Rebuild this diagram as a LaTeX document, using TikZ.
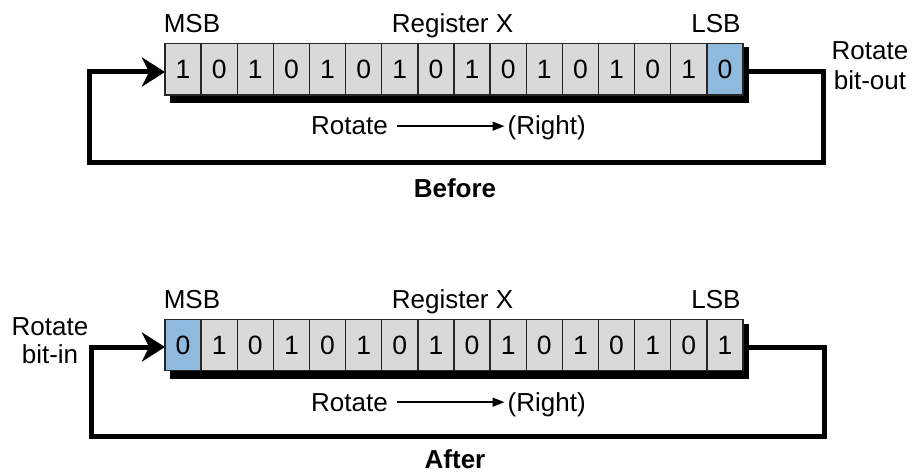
\documentclass[tikz,border=0pt]{standalone}
\usepackage{fontspec}
\setmainfont{Liberation Sans}
\usetikzlibrary{arrows.meta}
\definecolor{cellgray}{RGB}{217,217,217}
\definecolor{cellblue}{RGB}{143,186,222}
\begin{document}
\begin{tikzpicture}[x=1pt,y=-1pt,
  txt/.style={font=\fontsize{26}{30}\selectfont},
  cell/.style={font=\fontsize{26.5}{30}\selectfont,draw=black!85,line width=1.3pt,fill=cellgray,minimum width=36.125pt,minimum height=51.5pt,inner sep=0pt},
  hotcell/.style={cell,fill=cellblue},
  lbl/.style={txt,inner sep=0pt,anchor=base},
  lblw/.style={txt,inner sep=0pt,anchor=base west},
  ttl/.style={lbl,font=\fontsize{26}{30}\selectfont\bfseries},
  shadowbox/.style={fill=black},
  loopline/.style={line width=5pt,line join=miter,-{Stealth[length=23pt,width=29pt,inset=7pt]}},
  dirarrow/.style={line width=1.5pt,-{Triangle[length=12pt,width=9pt]},shorten <=9pt,shorten >=3pt}
]
\useasboundingbox (0,0) rectangle (917,473);

% ---------- Before ----------
\fill[shadowbox] (170,47.5) rectangle (749,102.7);
\foreach \b/\s [count=\i] in {1/cell,0/cell,1/cell,0/cell,1/cell,0/cell,1/cell,0/cell,1/cell,0/cell,1/cell,0/cell,1/cell,0/cell,1/cell,0/hotcell}
  \node[\s] (t\i) at ({165+36.125*(\i-0.5)},69.2) {\b};

\node[lbl] (tmsb) at (192,33) {MSB};
\node[lbl] (treg) at (452.5,33) {Register X};
\node[lbl] (tlsb) at (716,33) {LSB};
\node[lbl] (tout1) at (870,60) {Rotate};
\node[lbl] (tout2) at (870,90) {bit-out};

\coordinate (tOut) at (748,72);
\coordinate (tR) at (823.5,72);
\coordinate (tRB) at (823.5,163);
\coordinate (tLB) at (89.7,163);
\coordinate (tL) at (89.7,72);
\coordinate (tIn) at (165,72);
\draw[loopline] (tOut) -- (tR) -- (tRB) -- (tLB) -- (tL) -- (tIn);

\node[lblw] (trot) at (311,135) {Rotate};
\node[lblw] (tright) at (507.5,135) {(Right)};
\draw[dirarrow] (trot.east) -- (trot.east -| tright.west);

\node[ttl] (before) at (455,197) {Before};

% ---------- After ----------
\fill[shadowbox] (170,323.5) rectangle (749,378.5);
\foreach \b/\s [count=\i] in {0/hotcell,1/cell,0/cell,1/cell,0/cell,1/cell,0/cell,1/cell,0/cell,1/cell,0/cell,1/cell,0/cell,1/cell,0/cell,1/cell}
  \node[\s] (b\i) at ({165+36.125*(\i-0.5)},345) {\b};

\node[lbl] (bmsb) at (192,308) {MSB};
\node[lbl] (breg) at (452.5,308) {Register X};
\node[lbl] (blsb) at (716,308) {LSB};
\node[lbl] (bin1) at (50,335) {Rotate};
\node[lbl] (bin2) at (50,363) {bit-in};

\coordinate (bOut) at (748,347);
\coordinate (bR) at (824,347);
\coordinate (bRB) at (824,436);
\coordinate (bLB) at (91.5,436);
\coordinate (bL) at (91.5,347);
\coordinate (bIn) at (165,347);
\draw[loopline] (bOut) -- (bR) -- (bRB) -- (bLB) -- (bL) -- (bIn);

\node[lblw] (brot) at (311,411) {Rotate};
\node[lblw] (bright) at (507.5,411) {(Right)};
\draw[dirarrow] (brot.east) -- (brot.east -| bright.west);

\node[ttl] (after) at (455,468) {After};
\end{tikzpicture}
\end{document}
